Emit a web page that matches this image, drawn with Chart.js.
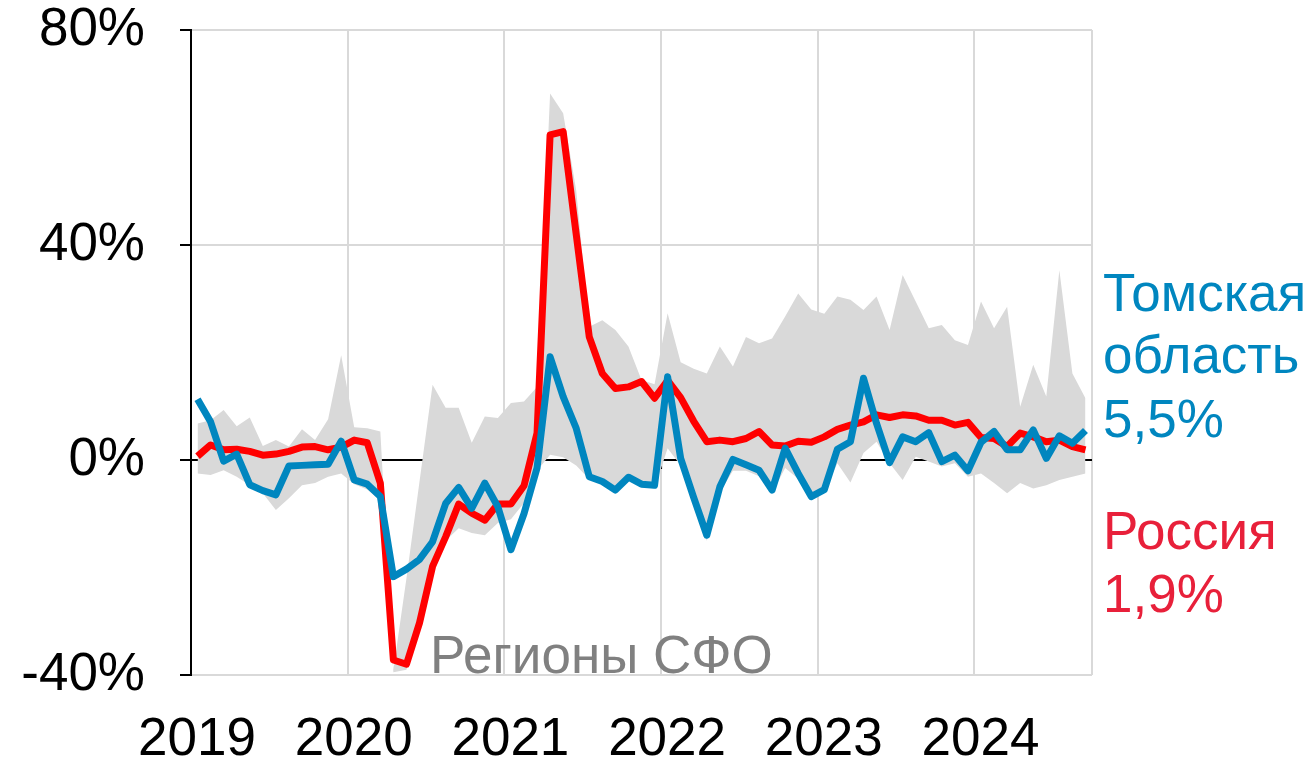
<!DOCTYPE html>
<html>
<head>
<meta charset="utf-8">
<script src="https://cdn.jsdelivr.net/npm/chart.js@4"></script>
<style>
  body { margin: 0; background: #fff; }
  #wrap { width: 1314px; height: 761px; position: relative; }
</style>
</head>
<body>
<div id="wrap"><canvas id="myChart"></canvas></div>
<script>
'use strict';

// months from Jan 2019 to Sep 2024, y/y %
let years = ['2019', '2020', '2021', '2022', '2023', '2024'];

let russia = [
  0.7, 2.8, 1.9, 2.0, 1.6, 0.9, 1.1, 1.6, 2.4, 2.5, 1.9, 2.4,
  3.7, 3.2, -4.3, -37.2, -38.0, -30.3, -19.8, -14.3, -8.2, -9.9, -11.2, -8.2,
  -8.2, -4.8, 5.0, 60.5, 61.1, 42.0, 22.9, 16.1, 13.3, 13.6, 14.6, 11.5,
  14.8, 11.6, 7.2, 3.4, 3.7, 3.4, 4.0, 5.3, 2.8, 2.6, 3.5, 3.3,
  4.3, 5.7, 6.5, 7.1, 8.4, 7.9, 8.4, 8.2, 7.4, 7.4, 6.5, 7.0,
  4.2, 4.0, 2.5, 5.0, 4.3, 3.4, 3.7, 2.5, 1.9
];

let tomsk = [
  11.3, 7.1, -0.2, 1.1, -4.6, -5.7, -6.5, -1.1, -1.0, -0.9, -0.8, 3.5,
  -3.7, -4.5, -6.8, -21.7, -20.3, -18.5, -15.2, -8.1, -5.1, -9.0, -4.3, -8.7,
  -16.7, -10.0, -1.5, 19.2, 11.8, 5.9, -3.1, -4.0, -5.6, -3.2, -4.5, -4.7,
  15.5, 0.3, -7.0, -14.0, -5.0, 0.1, -0.9, -1.9, -5.6, 2.2, -2.5, -6.8,
  -5.5, 2.0, 3.4, 15.2, 6.8, -0.5, 4.3, 3.4, 5.1, -0.3, 0.9, -2.0,
  3.3, 5.3, 1.9, 1.9, 5.6, 0.3, 4.5, 3.1, 5.5
];

// SFO regions range
let sfoMax = [
  6.8, 7.4, 9.3, 6.3, 7.9, 2.6, 3.7, 2.5, 5.7, 3.7, 7.6, 19.5,
  6.1, 5.9, 5.3, -39, -22, -4, 14.0, 9.7, 9.7, 3.2, 8.1, 7.8,
  10.6, 10.9, 13.6, 68.2, 64.5, 50.2, 24.8, 26.0, 24.2, 21.1, 14.9, 14.1,
  27.3, 18.2, 17.0, 16.1, 21.1, 17.4, 22.9, 21.7, 22.6, 26.7, 31.0, 28.0,
  27.2, 30.4, 29.8, 27.9, 30.4, 24.2, 34.4, 29.5, 24.5, 25.1, 22.3, 21.4,
  29.5, 24.5, 28.5, 9.9, 17.7, 11.8, 35.3, 16.1, 11.5
];

let sfoMin = [
  -2.5, -2.8, -1.9, -3.1, -4.7, -6.2, -9.3, -7.1, -4.7, -4.3, -3.1, -2.5,
  -4.5, -5.5, -7.5, -39.5, -39, -31, -21, -15, -12.7, -13.6, -14, -11.7,
  -11, -8, -2, 1, 0.5, -1, -3.6, -4.5, -6.0, -3.7, -5.0, -5.3,
  2.2, -1, -8, -15, -6, -2, -2, -3, -6.2, -1.5, -3.5, -7.5,
  -6, -0.6, -4.2, 1.3, 3.4, -0.6, -3.7, 0.6, -0.3, -1.2, -0.6, -3.1,
  -2.5, -4.3, -6.2, -4.3, -5.3, -4.7, -3.7, -3.1, -2.5
];

let yTicks = [-40, 0, 40, 80];

const FONT = '"Liberation Sans", Arial, sans-serif';
const FSIZE = 53;
const BLUE = '#0086BF';
const RED = '#FF0000';

function toPoints(arr) {
  return arr.map((v, i) => ({ x: i + 0.5, y: v }));
}

// small year ticks under the zero line + text labels
let extras = {
  id: 'extras',
  beforeDatasetsDraw(chart) {
    let c = chart.ctx;
    let xs = chart.scales.x;
    let y0 = chart.scales.y.getPixelForValue(0);
    c.save();
    c.strokeStyle = '#000';
    c.lineWidth = 2;
    years.forEach((yr, i) => {
      let px = xs.getPixelForValue(i * 12);
      c.beginPath();
      c.moveTo(px, y0);
      c.lineTo(px, y0 + 9);
      c.stroke();
    });
    c.restore();
  },
  afterDraw(chart) {
    let c = chart.ctx;
    c.save();
    c.font = FSIZE + 'px ' + FONT;
    c.textBaseline = 'alphabetic';
    c.textAlign = 'left';
    c.fillStyle = BLUE;
    c.fillText('Томская', 1103, 311);
    c.fillText('область', 1103, 373);
    c.fillText('5,5%', 1103, 437);
    c.fillStyle = '#E8203A';
    c.fillText('Россия', 1103, 549);
    c.fillText('1,9%', 1103, 612);
    c.fillStyle = '#808080';
    c.fillText('Регионы СФО', 430, 673);
    c.restore();
  }
};

let ctx = document.getElementById('myChart').getContext('2d');
let myChart = new Chart(ctx, { //eslint-disable-line
  type: 'line',
  data: {
    datasets: [
      {
        label: 'min',
        data: toPoints(sfoMin),
        borderWidth: 0,
        pointRadius: 0,
        fill: false,
        order: 4
      },
      {
        label: 'Регионы СФО',
        data: toPoints(sfoMax),
        borderWidth: 0,
        pointRadius: 0,
        backgroundColor: '#D9D9D9',
        fill: '-1',
        order: 3
      },
      {
        label: 'Россия',
        data: toPoints(russia),
        borderColor: RED,
        borderWidth: 7,
        pointRadius: 0,
        borderJoinStyle: 'round',
        fill: false,
        order: 1
      },
      {
        label: 'Томская область',
        data: toPoints(tomsk),
        borderColor: BLUE,
        borderWidth: 7,
        pointRadius: 0,
        borderJoinStyle: 'round',
        fill: false,
        order: 0
      }
    ]
  },
  options: {
    responsive: true,
    maintainAspectRatio: false,
    animation: false,
    layout: { padding: { top: 30, right: 222, left: 0, bottom: 0 } },
    plugins: {
      legend: { display: false },
      tooltip: { enabled: false }
    },
    scales: {
      x: {
        type: 'linear',
        min: 0,
        max: 69,
        afterBuildTicks: (scale) => {
          let t = years.map((y, i) => ({ value: i * 12 }));
          t.push({ value: 69 });
          scale.ticks = t;
        },
        afterFit: (scale) => {
          scale.height = 86;
          scale.paddingLeft = 0;
          scale.paddingRight = 0;
        },
        grid: { color: '#D9D9D9', lineWidth: 2, drawTicks: false },
        border: { display: false },
        ticks: {
          autoSkip: false,
          maxRotation: 0,
          padding: 34,
          labelOffset: 6,
          color: '#000',
          font: { family: FONT, size: FSIZE },
          callback: (v) => (v % 12 === 0 ? years[v / 12] : '')
        }
      },
      y: {
        min: -40,
        max: 80,
        afterBuildTicks: (scale) => {
          scale.ticks = yTicks.map((v) => ({ value: v }));
        },
        afterFit: (scale) => {
          scale.width = 191;
          scale.paddingTop = 0;
          scale.paddingBottom = 0;
        },
        grid: {
          color: (c) => (c.tick && c.tick.value === 0 ? '#000' : '#D9D9D9'),
          lineWidth: 2,
          tickColor: '#000',
          tickLength: 11
        },
        border: { color: '#000', width: 2 },
        ticks: {
          padding: 35,
          color: '#000',
          font: { family: FONT, size: FSIZE },
          callback: (v) => v + '%'
        }
      }
    }
  },
  plugins: [extras]
});
</script>
</body>
</html>
